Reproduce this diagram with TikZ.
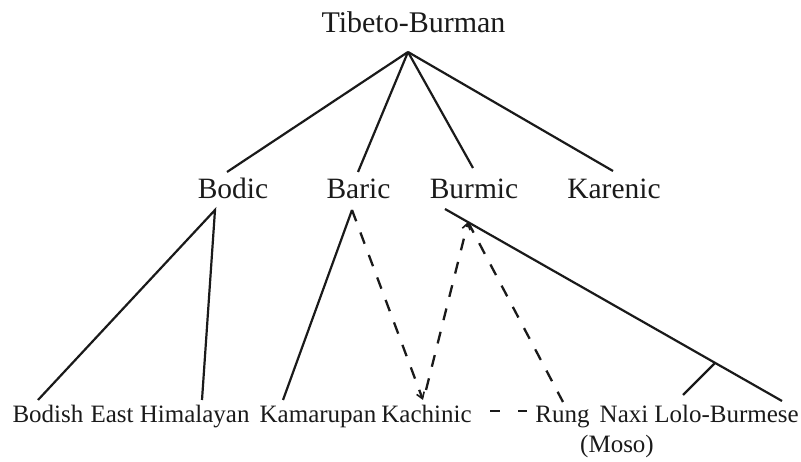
\documentclass[tikz,border=0pt]{standalone}
\usepackage{fontspec}
\setmainfont{Liberation Serif}
\usepackage{tikz}
\usetikzlibrary{arrows.meta,calc,positioning}
\definecolor{ink}{HTML}{1A1A1A}
\tikzset{
  top/.style={font=\fontsize{30}{34}\selectfont,text=ink,anchor=base,inner sep=0pt},
  mid/.style={font=\fontsize{29.5}{34}\selectfont,text=ink,anchor=base,inner sep=0pt},
  leaf/.style={font=\fontsize{25}{30}\selectfont,text=ink,anchor=base,inner sep=0pt},
  branch/.style={draw=ink,line width=2.2pt},
  link/.style={draw=ink,line width=2.3pt,dash pattern=on 12pt off 12pt},
  linkarrow/.style={link,-{Straight Barb[length=6pt,width=8pt,line width=1.6pt]}},
  contact/.style={draw=ink,line width=2.2pt,dash pattern=on 10pt off 18pt}
}
\begin{document}
\begin{tikzpicture}[x=1pt,y=1pt]
  \useasboundingbox (0,0) rectangle (801,462);
  % labels
  \node[top] (tb) at (413.5,429) {Tibeto-Burman};
  \node[mid] (bodic) at (233,263) {Bodic};
  \node[mid] (baric) at (358.5,263) {Baric};
  \node[mid] (burmic) at (474,263) {Burmic};
  \node[mid] (karenic) at (614,263) {Karenic};
  \node[leaf] (bodish) at (48,39) {Bodish};
  \node[leaf] (easthim) at (170,39) {East Himalayan};
  \node[leaf] (kamarupan) at (318,39) {Kamarupan};
  \node[leaf] (kachinic) at (426.5,39) {Kachinic};
  \node[leaf] (rung) at (562.5,39) {Rung};
  \node[leaf] (naxi) at (624,39) {Naxi};
  \node[leaf] (lolo) at (726.5,39) {Lolo-Burmese};
  \node[leaf] (moso) at (617,9) {(Moso)};
  % line ends
  \coordinate (tb-foot) at (408,410);
  \coordinate (bodic-top) at (227,290);
  \coordinate (baric-top) at (358,290);
  \coordinate (burmic-top) at (473,294);
  \coordinate (karenic-top) at (613,291);
  \coordinate (bodic-foot) at (215,252);
  \coordinate (baric-foot) at (352,252);
  \coordinate (burmic-foot) at (445,253);
  \coordinate (burmic-hit) at (468,240);
  \coordinate (lb-fork) at (715,99);
  \coordinate (bodish-top) at (38,62);
  \coordinate (easthim-top) at (202,62);
  \coordinate (kamarupan-top) at (283,62);
  \coordinate (kachinic-top) at (423,62);
  \coordinate (kachinic-up) at (426,72);
  \coordinate (rung-top) at (563,60);
  \coordinate (naxi-top) at (683,67);
  \coordinate (lolo-top) at (782,61);
  \coordinate (kachinic-r) at (490,51);
  \coordinate (rung-l) at (527,51);
  % tree
  \foreach \k in {bodic,baric,burmic,karenic}
    \draw[branch] (tb-foot) -- (\k-top);
  \draw[branch] (bodish-top) -- (bodic-foot) -- (easthim-top);
  \draw[branch] (baric-foot) -- (kamarupan-top);
  \draw[branch] (burmic-foot) -- (lolo-top);
  \draw[branch] (lb-fork) -- (naxi-top);
  % contacts
  \draw[linkarrow] (baric-foot) -- (kachinic-top);
  \draw[linkarrow] (kachinic-up) -- (burmic-hit);
  \draw[link] (burmic-hit) -- (rung-top);
  \draw[contact] (kachinic-r) -- (rung-l);
\end{tikzpicture}
\end{document}
